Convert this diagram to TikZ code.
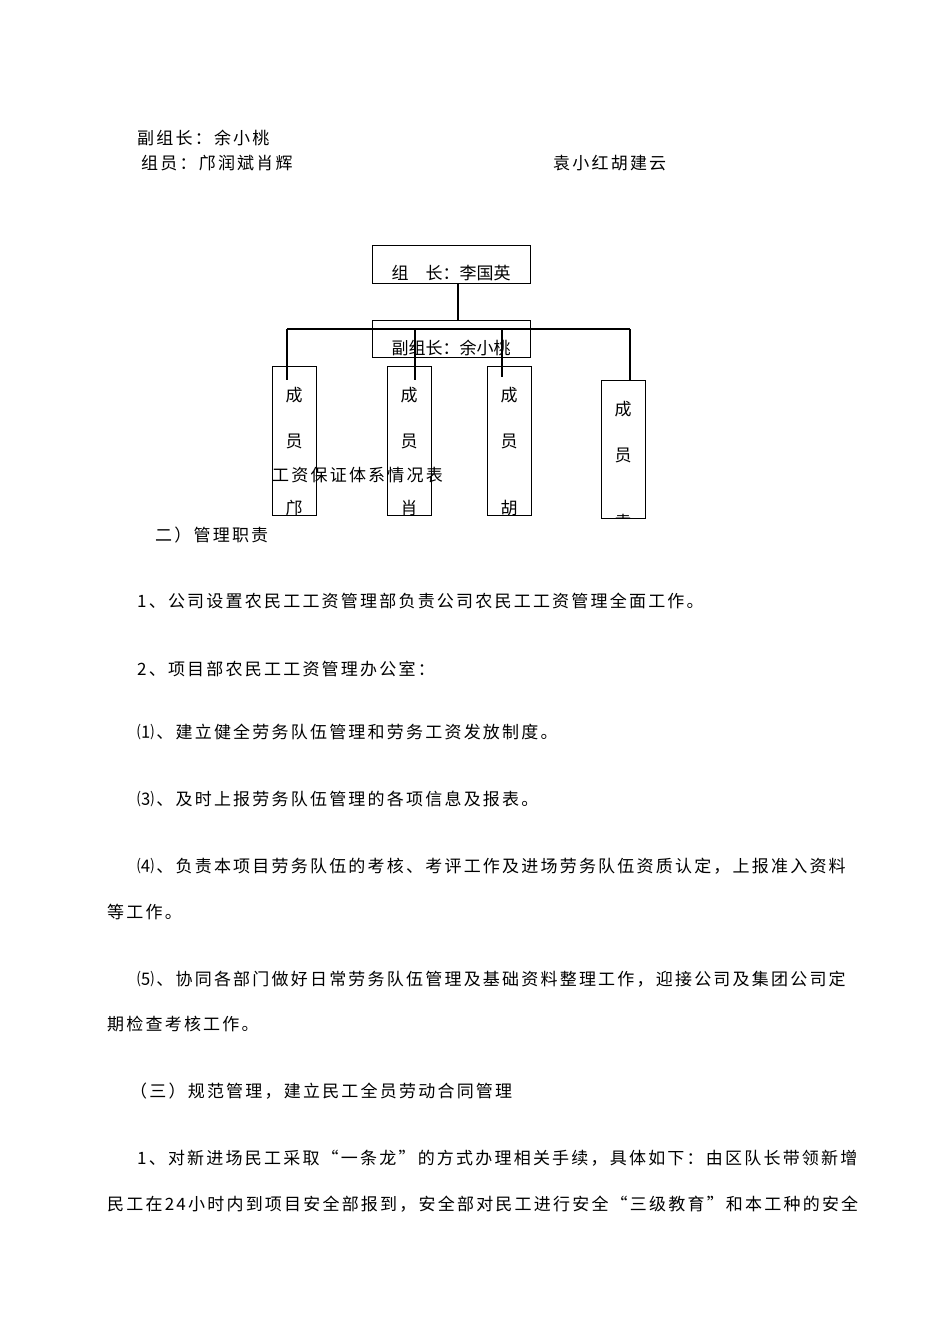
\documentclass[tikz,border=0pt]{standalone}
\usepackage{fontspec}
\setmainfont{Noto Sans CJK SC}
\newfontfamily\wide[LetterSpace=13]{Noto Sans CJK SC}
\begin{document}
\begin{tikzpicture}[x=1pt,y=-1pt,
  t/.style={anchor=west,inner sep=0pt,font=\wide\fontsize{17}{17}\selectfont},
  bx/.style={draw,line width=1.2pt},
  ln/.style={line width=1.4pt},
  ch/.style={inner sep=0pt,font=\fontsize{17}{17}\selectfont}]
\useasboundingbox (0,0) rectangle (950,1344);
\node[t] (a1) at (137,138) {副组长：余小桃};
\node[t] (a2) at (141,163) {组员：邝润斌肖辉};
\node[t] (a4) at (553,163) {袁小红胡建云};
% org chart
\node[bx,minimum width=158,minimum height=38,anchor=north west] (top) at (372,245) {};
\node[ch] (tt) at (451,273) {组\quad 长：李国英};
\node[bx,minimum width=158,minimum height=37,anchor=north west] (vice) at (372,320) {};
\node[ch] (vt) at (451,348) {副组长：余小桃};
\draw[ln] (458,283) -- (458,320);
\draw[ln] (287,329) -- (630,329);
\node[bx,minimum width=44,minimum height=149,anchor=north west] (m1) at (272,366) {};
\node[bx,minimum width=44,minimum height=149,anchor=north west] (m2) at (387,366) {};
\node[bx,minimum width=44,minimum height=149,anchor=north west] (m3) at (487,366) {};
\node[bx,minimum width=44,minimum height=138,anchor=north west] (m4) at (601,380) {};
\draw[ln] (287,329) -- (287,380);
\draw[ln] (415,329) -- (415,380);
\draw[ln] (502,329) -- (502,377);
\draw[ln] (630,329) -- (630,380);
\foreach \x/\c [count=\i] in {294/邝,409/肖,509/胡}{
  \node[ch] (c\i a) at (\x,395) {成};
  \node[ch] (c\i b) at (\x,441) {员};
  \begin{scope}\clip (\x-15,496) rectangle (\x+15,521);
  \node[ch] (c\i c) at (\x,508) {\c};\end{scope}
}
\node[ch] (c4a) at (623,409) {成};
\node[ch] (c4b) at (623,455) {员};
\begin{scope}\clip (605,505) rectangle (641,518);
\node[ch] (c4c) at (623,522) {袁};\end{scope}
\node[t] (title) at (272,475) {工资保证体系情况表};
% body
\node[t] (b1) at (155,535) {二）管理职责};
\node[t] (b2) at (137,601) {1、公司设置农民工工资管理部负责公司农民工工资管理全面工作。};
\node[t] (b3) at (137,669) {2、项目部农民工工资管理办公室：};
\node[t] (b4) at (137,732) {⑴、建立健全劳务队伍管理和劳务工资发放制度。};
\node[t] (b5) at (137,799) {⑶、及时上报劳务队伍管理的各项信息及报表。};
\node[t] (b6) at (137,866) {⑷、负责本项目劳务队伍的考核、考评工作及进场劳务队伍资质认定，上报准入资料};
\node[t] (b7) at (107,912) {等工作。};
\node[t] (b8) at (137,979) {⑸、协同各部门做好日常劳务队伍管理及基础资料整理工作，迎接公司及集团公司定};
\node[t] (b9) at (107,1024) {期检查考核工作。};
\node[t] (b10) at (130,1091) {（三）规范管理，建立民工全员劳动合同管理};
\node[t] (b11) at (137,1158) {1、对新进场民工采取“一条龙”的方式办理相关手续，具体如下：由区队长带领新增};
\node[t] (b12) at (107,1204) {民工在24小时内到项目安全部报到，安全部对民工进行安全“三级教育”和本工种的安全};
\end{tikzpicture}
\end{document}
